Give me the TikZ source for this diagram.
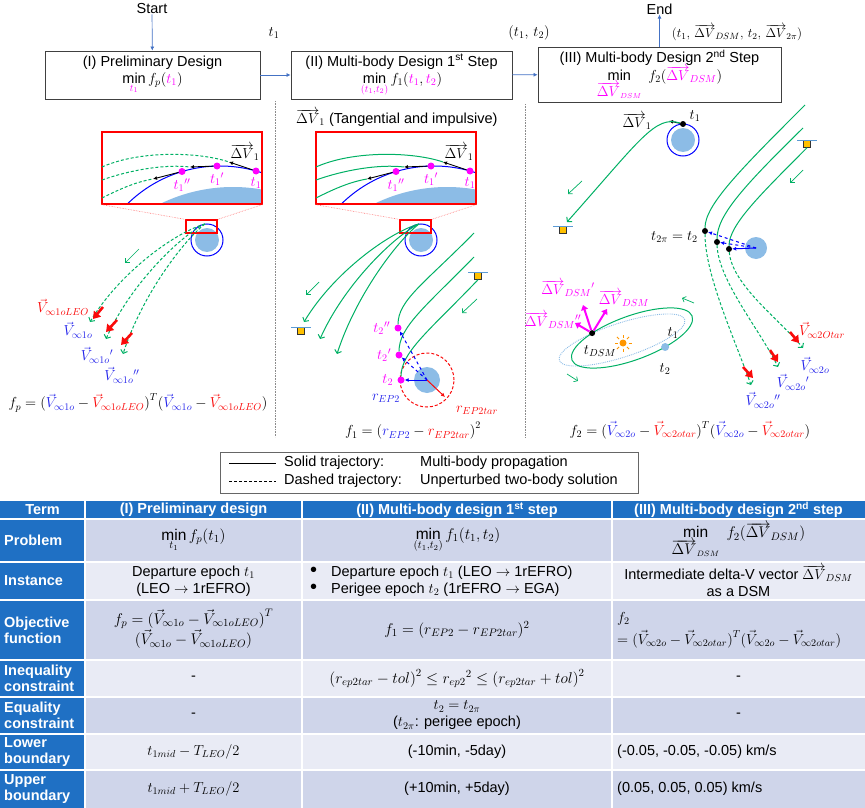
\RequirePackage{fix-cm}
\documentclass[tikz,border=0pt]{standalone}
\usepackage{fontspec}
\setmainfont{Liberation Sans}
\usetikzlibrary{arrows.meta,positioning}

\definecolor{trjgreen}{RGB}{0,176,100}
\definecolor{vblue}{RGB}{35,35,235}
\definecolor{vred}{RGB}{250,10,10}
\definecolor{vmag}{RGB}{255,0,255}
\definecolor{earthblue}{RGB}{140,188,230}
\definecolor{flowblue}{RGB}{68,114,196}
\definecolor{satorange}{RGB}{255,192,0}
\definecolor{sunorange}{RGB}{255,150,0}
\definecolor{satline}{RGB}{91,155,213}
\definecolor{tabblue}{RGB}{31,112,196}
\definecolor{banddark}{RGB}{207,213,234}
\definecolor{bandlight}{RGB}{233,235,245}

\tikzset{
  design/.style={draw=black!75,line width=0.8pt,align=center,inner sep=0pt},
  flow/.style={draw=flowblue,line width=0.7pt,-{Latex[length=4pt,width=4pt]}},
  trj/.style={draw=trjgreen,line width=1pt},
  trjd/.style={trj,dash pattern=on 3pt off 2pt},
  gtip/.style={-{Straight Barb[length=3pt,width=7pt]}},
  gsmall/.style={draw=trjgreen,line width=0.7pt,-{Straight Barb[length=3pt,width=6pt]}},
  orbit/.style={draw=blue,line width=1pt},
  earth/.style={circle,fill=earthblue,inner sep=0pt},
  zoomframe/.style={draw=red,line width=1.2pt,inner sep=0pt},
  zoomline/.style={draw=red!55,line width=0.6pt,densely dotted},
  mdot/.style={circle,fill=vmag,inner sep=0pt,minimum size=7pt},
  bdot/.style={circle,fill=black,inner sep=0pt,minimum size=6pt},
  tang/.style={draw=black,line width=0.9pt,-{Latex[length=4pt,width=4pt]}},
  vinf/.style={draw=vred,line width=2.6pt,-{Triangle[length=7pt,width=9pt]}},
  vdsm/.style={draw=vmag,line width=2pt,-{Triangle[length=5pt,width=7pt]}},
  rvec/.style={draw=blue,line width=1pt,-{Latex[length=4pt,width=4pt]}},
  sat/.style={draw=black!80,fill=satorange,inner sep=0pt,minimum size=7pt,line width=0.5pt},
  satbar/.style={draw=satline,line width=1.2pt},
  lbl/.style={inner sep=0pt},
  sep/.style={draw=black!45,line width=0.6pt,densely dotted},
  grid/.style={draw=white,line width=1.6pt},
  thead/.style={text=white,font=\fontsize{14.5}{16}\selectfont\bfseries,inner sep=0pt},
  rowhead/.style={thead,anchor=west,align=left},
  cell/.style={inner sep=0pt,align=center,font=\fontsize{14.5}{17}\selectfont},
  mcell/.style={cell,font=\fontsize{15.5}{18}\selectfont},
}

\begin{document}
\begin{tikzpicture}[x=1pt,y=-1pt,font=\fontsize{14.5}{17}\selectfont]
\useasboundingbox (0,0) rectangle (865,808);

\node[lbl] (start) at (152,9) {Start};
\node[lbl] (finish) at (659.5,9) {End};
\node[design,minimum width=215pt,minimum height=48pt] (des1) at (152.5,75)
  {(I) Preliminary Design\\$\min\limits_{\textcolor{vmag}{t_1}} f_p(\textcolor{vmag}{t_1})$};
\node[design,minimum width=221pt,minimum height=48pt] (des2) at (401.5,75)
  {(II) Multi-body Design 1\textsuperscript{st} Step\\$\min\limits_{\textcolor{vmag}{(t_1,t_2)}} f_1(\textcolor{vmag}{t_1},\textcolor{vmag}{t_2})$};
\node[design,minimum width=243pt,minimum height=55pt] (des3) at (659.5,74.5)
  {(III) Multi-body Design 2\textsuperscript{nd} Step\\$\min\limits_{\textcolor{vmag}{\overrightarrow{\Delta V}_{DSM}}}\ f_2\bigl(\textcolor{vmag}{\overrightarrow{\Delta V}_{DSM}}\bigr)$};
\draw[flow] (start) -- (des1);
\draw[flow] (des1) -- (des2);
\draw[flow] (des2) -- (des3);
\draw[flow] (des3) -- (finish);
\node[lbl] (lt1) at (274,33) {$t_1$};
\node[lbl] (lt12) at (529,33) {$(t_1,\,t_2)$};
\node[lbl,font=\fontsize{13}{15}\selectfont] (lt3) at (737,33) {$(t_1,\,\overrightarrow{\Delta V}_{DSM},\,t_2,\,\overrightarrow{\Delta V}_{2\pi})$};

\draw[sep] (275,101) -- (275,437);
\draw[sep] (525,104) -- (525,437);
\node[lbl,anchor=west] (dvnote) at (296,118) {$\overrightarrow{\Delta V}_1$ (Tangential and impulsive)};

\foreach \dx/\tr/\pn in {0/trjd/L,214/trj/M}{
  \begin{scope}[xshift=\dx]
    \begin{scope}
      \clip (102,132) rectangle (262,204);
      \fill[earthblue] (233,352) circle (165pt);
      \draw[orbit] (220,298) circle (132pt);
    \end{scope}
    \node[zoomframe,minimum width=160pt,minimum height=72pt] (zb\pn) at (182,168) {};
    \coordinate (dva\pn) at (229,162);
    \coordinate (dvb\pn) at (190,167);
    \coordinate (dvc\pn) at (153,179);
    \draw[\tr] (102,167) .. controls (140,150) and (200,152) .. (dva\pn);
    \draw[\tr] (102,180) .. controls (130,170) and (165,164) .. (dvb\pn);
    \draw[\tr] (102,198) .. controls (118,190) and (135,182) .. (dvc\pn);
    \node[mdot] (ta\pn) at (256,171) {};
    \node[mdot] (tb\pn) at (217,166) {};
    \node[mdot] (tc\pn) at (182,171.5) {};
    \draw[tang] (ta\pn) -- (dva\pn);
    \draw[tang] (tb\pn) -- (dvb\pn);
    \draw[tang] (tc\pn) -- (dvc\pn);
    \node[lbl,text=vmag,below=3pt of ta\pn] {$t_1$};
    \node[lbl,text=vmag,below=3pt of tb\pn] {${t_1}'$};
    \node[lbl,text=vmag,below=3pt of tc\pn] {${t_1}''$};
    \node[lbl] (dvl\pn) at (245,152) {$\overrightarrow{\Delta V}_1$};
    \node[earth,minimum size=24pt] (leo\pn) at (207,240) {};
    \draw[orbit] (leo\pn) circle (16pt);
    \node[zoomframe,minimum width=31pt,minimum height=13pt] (zs\pn) at (201.5,226.5) {};
    \draw[zoomline] (zb\pn.south west) -- (zs\pn.north west);
    \draw[zoomline] (zb\pn.south east) -- (zs\pn.north east);
    \coordinate (fan\pn) at (205,224);
    \draw[\tr,gtip] (fan\pn) .. controls (176,232) and (120,272) .. (90,322);
    \draw[\tr,gtip] (fan\pn) .. controls (180,236) and (130,285) .. (106,339);
    \draw[\tr,gtip] (fan\pn) .. controls (184,240) and (142,295) .. (123,354);
  \end{scope}
}

\draw[gsmall] (139,249) -- (125,263);
\draw[vinf] (103,307) -- (93,319);
\draw[vinf] (117,320) -- (106,332);
\draw[vinf] (132,333) -- (121,345);
\node[lbl,text=vred] (vleo) at (63,307) {$\vec V_{\infty1oLEO}$};
\node[lbl,text=vblue] (v1o) at (78,330) {$\vec V_{\infty1o}$};
\node[lbl,text=vblue] (v1oa) at (97,355) {$\vec V_{\infty1o}{}'$};
\node[lbl,text=vblue] (v1ob) at (122,375) {$\vec V_{\infty1o}{}''$};
\node[lbl] (fp) at (138,403) {$f_p=\bigl(\textcolor{vblue}{\vec V_{\infty1o}}-\textcolor{vred}{\vec V_{\infty1oLEO}}\bigr)^T\bigl(\textcolor{vblue}{\vec V_{\infty1o}}-\textcolor{vred}{\vec V_{\infty1oLEO}}\bigr)$};

\node[sat] (sqML) at (301,331) {};
\draw[satbar] ([xshift=-10pt]sqML.north) -- ([xshift=10pt]sqML.north);
\node[sat] (sqMR) at (478,276) {};
\draw[satbar] ([xshift=-10pt]sqMR.north) -- ([xshift=10pt]sqMR.north);
\draw[gsmall] (319,282) -- (306,295);
\draw[gsmall] (477,299) -- (462,313);
\node[earth,minimum size=26pt] (ep) at (427,380) {};
\draw[vred,line width=1pt,dash pattern=on 3pt off 2pt] (ep.center) circle (27pt);
\node[mdot] (t2b) at (398,328) {};
\node[mdot] (t2a) at (399,355) {};
\node[mdot] (t2) at (401,380) {};
\draw[trj] (474,233) .. controls (425,283) and (398,300) .. (t2b);
\draw[trj] (474,257) .. controls (425,307) and (399,327) .. (t2a);
\draw[trj] (sqMR.south) .. controls (430,330) and (401,352) .. (t2);
\draw[rvec,dashed] (ep.center) -- (t2b);
\draw[rvec,dashed] (ep.center) -- (t2a);
\draw[rvec] (ep.center) -- (t2);
\coordinate (rtar) at (445,397);
\draw[vred,line width=1pt,-{Latex[length=4pt,width=4pt]}] (ep.center) -- (rtar);
\node[lbl,text=vmag,left=4pt of t2b] {${t_2}''$};
\node[lbl,text=vmag,left=4pt of t2a] {${t_2}'$};
\node[lbl,text=vmag,left=4pt of t2] {$t_2$};
\node[lbl,text=vblue] (rep) at (386,398) {$r_{EP2}$};
\node[lbl,text=vred] (reptar) at (477,410) {$r_{EP2tar}$};
\node[lbl] (f1) at (413,431) {$f_1=\bigl(\textcolor{vblue}{r_{EP2}}-\textcolor{vred}{r_{EP2tar}}\bigr)^2$};

\node[earth,minimum size=24pt] (e3) at (683,140) {};
\draw[orbit] (e3) circle (16pt);
\node[bdot] (d1) at (683,124) {};
\coordinate (dv3) at (669,121);
\draw[tang] (d1) -- (dv3);
\node[lbl] (dvr) at (637,121) {$\overrightarrow{\Delta V}_1$};
\node[lbl] (t1r) at (695,116) {$t_1$};
\node[sat] (sqRL) at (563,230) {};
\draw[satbar] ([xshift=-10pt]sqRL.north) -- ([xshift=10pt]sqRL.north);
\draw[trj,gtip] (d1) .. controls (655,115) and (640,140) .. (567,222);
\draw[gsmall] (582,181) -- (568,194);

\node[sat] (sqRR) at (807,144) {};
\draw[satbar] ([xshift=-10pt]sqRR.north) -- ([xshift=10pt]sqRR.north);
\draw[gsmall] (803,170) -- (790,183);
\node[earth,minimum size=22pt] (e4) at (756,248) {};
\node[bdot] (p1) at (705,231) {};
\node[bdot] (p2) at (717,242) {};
\node[bdot] (p3) at (729,249) {};
\draw[trj] (805,105) .. controls (740,170) and (705,205) .. (p1);
\draw[trj] (803,128) .. controls (745,185) and (717,215) .. (p2);
\draw[trj] (sqRR.south) .. controls (760,195) and (729,225) .. (p3);
\draw[rvec,dashed] (e4.center) -- (p1);
\draw[rvec,dashed] (e4.center) -- (p2);
\draw[rvec] (e4.center) -- (p3);
\draw[trjd,gtip] (p1) .. controls (705,275) and (735,340) .. (751,385);
\draw[trjd,gtip] (p2) .. controls (718,280) and (760,330) .. (778,367);
\draw[trjd,gtip] (p3) .. controls (732,285) and (780,320) .. (803,348);
\draw[vinf] (743,367) -- (753,378);
\draw[vinf] (770,350) -- (778,362);
\draw[vinf] (790,332) -- (799,343);
\node[lbl,anchor=east] (t2pi) at (698,237) {$t_{2\pi}=t_2$};
\node[lbl,text=vred] (vtar) at (822,330) {$\vec V_{\infty2Otar}$};
\node[lbl,text=vblue] (v2o) at (815,365) {$\vec V_{\infty2o}$};
\node[lbl,text=vblue] (v2oa) at (793,382) {$\vec V_{\infty2o}{}'$};
\node[lbl,text=vblue] (v2ob) at (763,400) {$\vec V_{\infty2o}{}''$};

\begin{scope}[shift={(622,340)},rotate=18]
  \draw[earthblue,line width=0.9pt,densely dotted] (0,0) ellipse [x radius=66pt,y radius=17pt];
\end{scope}
\begin{scope}[shift={(632,338)},rotate=20,y=1pt]
  \draw[trj] (0,0) ellipse [x radius=64pt,y radius=22pt];
  \node[bdot] (tdsm) at (124:64pt and 22pt) {};
  \node[earth,minimum size=8pt] (tt2) at (-64:64pt and 22pt) {};
\end{scope}
\node[circle,fill=sunorange,inner sep=0pt,minimum size=7pt] (sun) at (623,343) {};
\foreach \a in {0,45,...,315}
  \draw[sunorange,line width=1pt] (sun.center) ++(\a:5.5pt) -- ++(\a:3pt);
\coordinate (dsmA) at (607,309);
\coordinate (dsmB) at (583,305);
\coordinate (dsmC) at (575,323);
\draw[vdsm] (tdsm) -- (dsmA);
\draw[vdsm] (tdsm) -- (dsmB);
\draw[vdsm] (tdsm) -- (dsmC);
\node[lbl,text=vmag] (ldsmA) at (624,298) {$\overrightarrow{\Delta V}_{DSM}$};
\node[lbl,text=vmag] (ldsmB) at (568,288) {$\overrightarrow{\Delta V}_{DSM}{}'$};
\node[lbl,text=vmag] (ldsmC) at (553,320) {$\overrightarrow{\Delta V}_{DSM}{}''$};
\node[lbl] (ltdsm) at (600,351) {$t_{DSM}$};
\node[lbl] (lt1e) at (673,333) {$t_1$};
\node[lbl] (lt2e) at (665,369) {$t_2$};
\draw[gsmall] (694,303) -- (682,298);
\draw[gsmall] (567,374) -- (578,381);
\node[lbl] (f2) at (690,430) {$f_2=\bigl(\textcolor{vblue}{\vec V_{\infty2o}}-\textcolor{vred}{\vec V_{\infty2otar}}\bigr)^T\bigl(\textcolor{vblue}{\vec V_{\infty2o}}-\textcolor{vred}{\vec V_{\infty2otar}}\bigr)$};

\node[draw=black!60,line width=0.8pt,minimum width=418pt,minimum height=41pt,inner sep=0pt] (legend) at (429,472.5) {};
\coordinate (lsa) at (229,463);
\coordinate (lsb) at (276,463);
\coordinate (lda) at (229,481);
\coordinate (ldb) at (276,481);
\draw[line width=0.9pt] (lsa) -- (lsb);
\draw[line width=0.9pt,dash pattern=on 3pt off 2pt] (lda) -- (ldb);
\node[lbl,anchor=west] (lsol) at (284,463) {Solid trajectory:};
\node[lbl,anchor=west] (lsolm) at (420,463) {Multi-body propagation};
\node[lbl,anchor=west] (ldsh) at (284,481) {Dashed trajectory:};
\node[lbl,anchor=west] (ldshm) at (420,481) {Unperturbed two-body solution};

\fill[tabblue] (0,501) rectangle (865,519);
\foreach \ya/\yb/\bd in {519/562/banddark,562/600/bandlight,600/660/banddark,660/697/bandlight,697/734/banddark,734/770/bandlight,770/808/banddark}{
  \fill[\bd] (85,\ya) rectangle (865,\yb);
  \fill[tabblue] (0,\ya) rectangle (85,\yb);
}
\foreach \x in {85,302,612} \draw[grid] (\x,501) -- (\x,808);
\foreach \y in {519,562,600,660,697,734,770} \draw[grid] (0,\y) -- (865,\y);
\node[thead] (hterm) at (42.5,510) {Term};
\node[thead] (hI) at (193.5,510) {(I) Preliminary design};
\node[thead] (hII) at (457,510) {(II) Multi-body design 1\textsuperscript{st} step};
\node[thead] (hIII) at (738.5,510) {(III) Multi-body design 2\textsuperscript{nd} step};
\foreach \y/\t [count=\k] in {540.5/Problem,581/Instance,630/{Objective\\function},678.5/{Inequality\\constraint},715.5/{Equality\\constraint},752/{Lower\\boundary},789/{Upper\\boundary}}
  \node[rowhead] (row\k) at (4,\y) {\t};

\node[mcell] (pI) at (193.5,540) {$\min\limits_{t_1} f_p(t_1)$};
\node[mcell] (pII) at (457,540) {$\min\limits_{(t_1,t_2)} f_1(t_1,t_2)$};
\node[mcell] (pIII) at (738.5,540) {$\min\limits_{\overrightarrow{\Delta V}_{DSM}}\ f_2\bigl(\overrightarrow{\Delta V}_{DSM}\bigr)$};
\node[cell] (iI) at (193.5,581) {Departure epoch $t_1$\\(LEO $\rightarrow$ 1rEFRO)};
\node[cell,anchor=west,align=left] (iII) at (310,581) {\makebox[21pt][l]{\fontsize{20}{17}\selectfont\textbullet}Departure epoch $t_1$ (LEO $\rightarrow$ 1rEFRO)\\\makebox[21pt][l]{\fontsize{20}{17}\selectfont\textbullet}Perigee epoch $t_2$ (1rEFRO $\rightarrow$ EGA)};
\node[cell] (iIII) at (738.5,581) {Intermediate delta-V vector $\overrightarrow{\Delta V}_{DSM}$\\as a DSM};
\node[mcell,font=\fontsize{15.5}{17}\selectfont] (oI) at (193.5,629) {$f_p=\bigl(\vec V_{\infty1o}-\vec V_{\infty1oLEO}\bigr)^T$\\$\bigl(\vec V_{\infty1o}-\vec V_{\infty1oLEO}\bigr)$};
\node[mcell] (oII) at (457,630) {$f_1=(r_{EP2}-r_{EP2tar})^2$};
\node[cell,anchor=west,align=left,font=\fontsize{14.5}{22}\selectfont] (oIII) at (617,630) {$f_2$\\$=\bigl(\vec V_{\infty2o}-\vec V_{\infty2otar}\bigr)^T\bigl(\vec V_{\infty2o}-\vec V_{\infty2otar}\bigr)$};
\node[cell] (qI) at (193.5,678.5) {-};
\node[mcell] (qII) at (457,678.5) {$\bigl(r_{ep2tar}-tol\bigr)^2\le {r_{ep2}}^2\le\bigl(r_{ep2tar}+tol\bigr)^2$};
\node[cell] (qIII) at (738.5,678.5) {-};
\node[cell] (eI) at (193.5,715.5) {-};
\node[cell] (eII) at (457,715.5) {$t_2=t_{2\pi}$\\($t_{2\pi}$: perigee epoch)};
\node[cell] (eIII) at (738.5,715.5) {-};
\node[cell] (lI) at (193.5,752) {$t_{1mid}-T_{LEO}/2$};
\node[cell] (lII) at (457,752) {(-10min, -5day)};
\node[cell,anchor=west] (lIII) at (617,752) {(-0.05, -0.05, -0.05) km/s};
\node[cell] (uI) at (193.5,789) {$t_{1mid}+T_{LEO}/2$};
\node[cell] (uII) at (457,789) {(+10min, +5day)};
\node[cell,anchor=west] (uIII) at (617,789) {(0.05, 0.05, 0.05) km/s};
\end{tikzpicture}
\end{document}
